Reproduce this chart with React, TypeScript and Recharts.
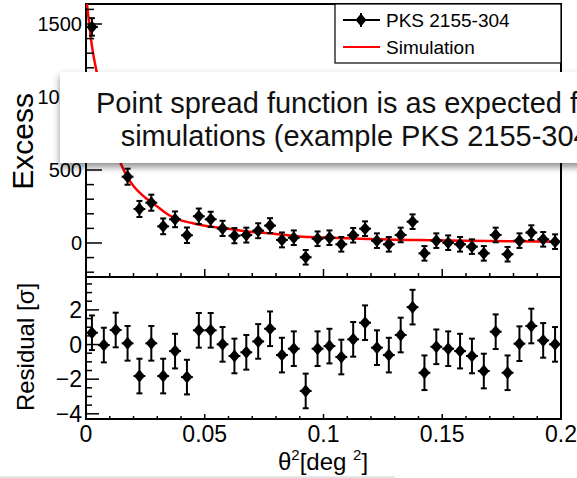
import { ComposedChart, Scatter, Line, XAxis, YAxis, ErrorBar, ReferenceArea } from 'recharts'

// theta^2 bin centres (deg^2), bins of 0.005
const thetaSq = [
  0.0025, 0.0075, 0.0125, 0.0175, 0.0225, 0.0275, 0.0325, 0.0375, 0.0425, 0.0475,
  0.0525, 0.0575, 0.0625, 0.0675, 0.0725, 0.0775, 0.0825, 0.0875, 0.0925, 0.0975,
  0.1025, 0.1075, 0.1125, 0.1175, 0.1225, 0.1275, 0.1325, 0.1375, 0.1425, 0.1475,
  0.1525, 0.1575, 0.1625, 0.1675, 0.1725, 0.1775, 0.1825, 0.1875, 0.1925, 0.1975,
]
const binHalfWidth = [
  0.0025, 0.0025, 0.0025, 0.0025, 0.0025, 0.0025, 0.0025, 0.0025, 0.0025, 0.0025,
  0.0025, 0.0025, 0.0025, 0.0025, 0.0025, 0.0025, 0.0025, 0.0025, 0.0025, 0.0025,
  0.0025, 0.0025, 0.0025, 0.0025, 0.0025, 0.0025, 0.0025, 0.0025, 0.0025, 0.0025,
  0.0025, 0.0025, 0.0025, 0.0025, 0.0025, 0.0025, 0.0025, 0.0025, 0.0025, 0.0025,
]
const excess = [
  1480, 900, 650, 454, 233, 276, 114, 162, 53, 183,
  162, 100, 50, 54, 84, 119, 21, 36, -98, 29,
  36, -9, 53, 98, 16, -9, 55, 146, -71, 16,
  2, -9, -25, -71, 55, -77, 16, 71, 25, 9,
]
const excessErr = [
  60, 58, 56, 55, 55, 55, 54, 54, 53, 53,
  52, 52, 52, 51, 51, 51, 51, 50, 50, 50,
  50, 50, 50, 50, 50, 50, 50, 50, 50, 50,
  50, 50, 50, 50, 50, 50, 50, 50, 50, 50,
]
const residual = [
  0.68, -0.03, 0.84, 0.07, -1.82, 0.07, -1.82, -0.38, -1.88, 0.82,
  0.82, 0.01, -0.66, -0.45, 0.18, 0.91, -0.61, -0.24, -2.68, -0.24,
  -0.09, -0.72, 0.3, 1.26, -0.18, -0.61, 0.55, 2.16, -1.63, -0.13,
  -0.24, -0.38, -0.66, -1.53, 0.74, -1.63, 0.05, 1.07, 0.24, 0.01,
]
const residualErr = [
  1, 1, 1, 1, 1, 1, 1, 1, 1, 1,
  1, 1, 1, 1, 1, 1, 1, 1, 1, 1,
  1, 1, 1, 1, 1, 1, 1, 1, 1, 1,
  1, 1, 1, 1, 1, 1, 1, 1, 1, 1,
]

// simulated PSF curve
const curveTheta = [
  0, 0.0025, 0.005, 0.0075, 0.01, 0.0125, 0.015, 0.0175, 0.02, 0.025, 0.03, 0.035, 0.04,
  0.045, 0.05, 0.06, 0.07, 0.08, 0.09, 0.1, 0.11, 0.12, 0.13, 0.14, 0.16, 0.18, 0.2,
]
const curveExcess = [
  1700, 1350, 1130, 920, 760, 640, 530, 450, 390, 310, 250, 190, 155,
  135, 118, 97, 76, 62, 45, 38, 32, 27, 23, 20, 15, 12, 9,
]

// axes
const xTicks = [
  0, 0.01, 0.02, 0.03, 0.04, 0.05, 0.06, 0.07, 0.08, 0.09, 0.1,
  0.11, 0.12, 0.13, 0.14, 0.15, 0.16, 0.17, 0.18, 0.19, 0.2,
]
const xMajor = [0, 0.05, 0.1, 0.15, 0.2]
const xMajorLabels = ['0', '0.05', '0.1', '0.15', '0.2']
const excessTicks = [
  -200, -100, 0, 100, 200, 300, 400, 500, 600, 700, 800, 900, 1000, 1100, 1200, 1300, 1400, 1500, 1600,
]
const excessMajor = [0, 500, 1000, 1500]
const residualTicks = [-4, -3.5, -3, -2.5, -2, -1.5, -1, -0.5, 0, 0.5, 1, 1.5, 2, 2.5, 3, 3.5]
const residualMajor = [-4, -2, 0, 2]

const excessDomain = [-233, 1637]
const residualDomain = [-4.3, 3.9]

const FONT = '"Liberation Sans", Arial, Helvetica, sans-serif'

const excessPoints = thetaSq.map((x, i) => ({ x, y: excess[i], ex: binHalfWidth[i], ey: excessErr[i] }))
const residualPoints = thetaSq.map((x, i) => ({ x, y: residual[i], ex: binHalfWidth[i], ey: residualErr[i] }))
const curveData = curveTheta.map((x, i) => ({ x, v: curveExcess[i] }))

const idxOf = (v: number, list: number[]) => list.findIndex((m) => Math.abs(m - v) < 1e-9)
const fmt = (v: number) => (v < 0 ? '\u2212' + Math.abs(v) : String(v))

function Diamond(p: any) {
  const { cx, cy } = p
  if (cx == null || cy == null) return null
  return <path d={`M${cx},${cy - 6.5}L${cx + 5.5},${cy}L${cx},${cy + 6.5}L${cx - 5.5},${cy}Z`} fill="#000" />
}

function yTick(majors: number[], fontSize: number, majorLen: number, minorLen: number) {
  return (p: any) => {
    const ax = p.x
    const v = p.payload.value
    const major = idxOf(v, majors) >= 0
    return (
      <g>
        <line x1={ax} x2={ax + (major ? majorLen : minorLen)} y1={p.y} y2={p.y} stroke="#000" strokeWidth={1.5} />
        {major && (
          <text x={ax - 4} y={p.y} dy="0.35em" textAnchor="end" fontSize={fontSize} fontFamily={FONT} fill="#000">
            {fmt(v)}
          </text>
        )}
      </g>
    )
  }
}

function xTick(showLabels: boolean, majorLen: number, minorLen: number) {
  return (p: any) => {
    const v = p.payload.value
    const k = idxOf(v, xMajor)
    const major = k >= 0
    return (
      <g>
        <line x1={p.x} x2={p.x} y1={p.y} y2={p.y - (major ? majorLen : minorLen)} stroke="#000" strokeWidth={1.5} />
        {showLabels && major && (
          <text x={p.x} y={p.y + 23} textAnchor="middle" fontSize={23} fontFamily={FONT} fill="#000">
            {xMajorLabels[k]}
          </text>
        )}
      </g>
    )
  }
}

export default function App() {
  return (
    <div style={{ position: 'fixed', left: 0, top: 0, width: 577, height: 478, background: '#fff', overflow: 'hidden' }}>
      {/* upper pad: excess */}
      <div style={{ position: 'absolute', left: 0, top: 0 }}>
        <ComposedChart width={577} height={282} margin={{ top: 4, right: 16, bottom: 0, left: 0 }}>
          <XAxis
            type="number"
            dataKey="x"
            domain={[0, 0.2]}
            ticks={xTicks}
            interval={0}
            allowDataOverflow
            axisLine={false}
            tickLine={false}
            tickSize={0}
            tickMargin={0}
            height={5}
            tick={xTick(false, 8, 4)}
          />
          <YAxis
            type="number"
            domain={excessDomain}
            ticks={excessTicks}
            interval={0}
            allowDataOverflow
            axisLine={false}
            tickLine={false}
            tickSize={0}
            tickMargin={0}
            width={86}
            tick={yTick(excessMajor, 20, 16, 8)}
          />
          <Line data={curveData} dataKey="v" type="monotone" stroke="#ff0000" strokeWidth={2.5} dot={false} isAnimationActive={false} />
          <Scatter data={excessPoints} dataKey="y" shape={Diamond} isAnimationActive={false}>
            <ErrorBar dataKey="ex" direction="x" width={0} stroke="#000" strokeWidth={2} />
            <ErrorBar dataKey="ey" direction="y" width={3} stroke="#000" strokeWidth={2} />
          </Scatter>
          <ReferenceArea x1={0} x2={0.2} y1={excessDomain[0]} y2={excessDomain[1]} fill="none" stroke="#000" strokeWidth={2} ifOverflow="visible" />
        </ComposedChart>
      </div>

      {/* lower pad: residuals */}
      <div style={{ position: 'absolute', left: 0, top: 277 }}>
        <ComposedChart width={577} height={201} margin={{ top: 0, right: 16, bottom: 0, left: 0 }}>
          <XAxis
            type="number"
            dataKey="x"
            domain={[0, 0.2]}
            ticks={xTicks}
            interval={0}
            allowDataOverflow
            axisLine={false}
            tickLine={false}
            tickSize={0}
            tickMargin={0}
            height={59}
            tick={xTick(true, 5, 3)}
          />
          <YAxis
            type="number"
            domain={residualDomain}
            ticks={residualTicks}
            interval={0}
            allowDataOverflow
            axisLine={false}
            tickLine={false}
            tickSize={0}
            tickMargin={0}
            width={86}
            tick={yTick(residualMajor, 23, 13, 6)}
          />
          <Scatter data={residualPoints} dataKey="y" shape={Diamond} isAnimationActive={false}>
            <ErrorBar dataKey="ex" direction="x" width={0} stroke="#000" strokeWidth={2} />
            <ErrorBar dataKey="ey" direction="y" width={3} stroke="#000" strokeWidth={2} />
          </Scatter>
          <ReferenceArea x1={0} x2={0.2} y1={residualDomain[0]} y2={residualDomain[1]} fill="none" stroke="#000" strokeWidth={2} ifOverflow="visible" />
        </ComposedChart>
      </div>

      {/* axis titles and legend */}
      <svg width={577} height={478} style={{ position: 'absolute', left: 0, top: 0, pointerEvents: 'none' }} fontFamily={FONT}>
        <text x={33} y={93} transform="rotate(-90 33 93)" textAnchor="end" fontSize={30} fill="#000">Excess</text>
        <text x={34} y={347} transform="rotate(-90 34 347)" textAnchor="middle" fontSize={24} fill="#000">Residual [σ]</text>
        <text x={278} y={470} fontSize={24} fill="#000">
          θ<tspan dy={-10} fontSize={15}>2</tspan>
          <tspan dy={10}>[deg </tspan>
          <tspan dy={-10} fontSize={15}>2</tspan>
          <tspan dy={10}>]</tspan>
        </text>
        <rect x={335} y={4} width={226} height={59} fill="#fff" stroke="#000" strokeWidth={1.2} />
        <line x1={343} x2={380} y1={20} y2={20} stroke="#000" strokeWidth={2} />
        <line x1={361} x2={361} y1={13} y2={27} stroke="#000" strokeWidth={2} />
        <path d="M361,13.5L366.5,20L361,26.5L355.5,20Z" fill="#000" />
        <text x={386} y={27} fontSize={19} fill="#000">PKS 2155-304</text>
        <line x1={343} x2={380} y1={47} y2={47} stroke="#ff0000" strokeWidth={2} />
        <text x={386} y={54} fontSize={19} fill="#000">Simulation</text>
        <rect x={0} y={476} width={395} height={2} fill="#e6e6e6" />
      </svg>

      {/* slide caption box, runs off the right edge as in the source slide */}
      <div
        style={{
          position: 'absolute',
          left: 60,
          top: 72,
          width: 620,
          height: 91,
          background: '#fff',
          boxShadow: '0 4px 7px rgba(0,0,0,0.45)',
        }}
      />
      <svg width={577} height={478} style={{ position: 'absolute', left: 0, top: 0, pointerEvents: 'none' }} fontFamily={FONT}>
        <text x={362} y={113} textAnchor="middle" fontSize={29} fill="#111">Point spread function is as expected from</text>
        <text x={360} y={146} textAnchor="middle" fontSize={29} fill="#111">simulations (example PKS 2155-304)</text>
      </svg>
    </div>
  )
}
